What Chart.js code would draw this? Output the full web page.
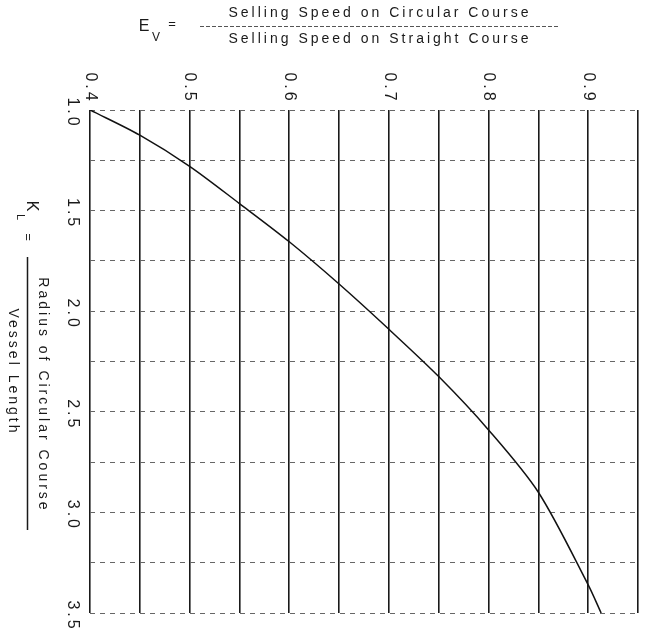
<!DOCTYPE html>
<html>
<head>
<meta charset="utf-8">
<script src="https://cdn.jsdelivr.net/npm/chart.js@4.4.0/dist/chart.umd.min.js"></script>
<style>
  html, body { margin: 0; padding: 0; background: #fff; }
  #wrap { width: 652px; height: 635px; position: relative; }
</style>
</head>
<body>
<div id="wrap"><canvas id="c"></canvas></div>
<script>
// Data
const evValues = [0.40, 0.45, 0.50, 0.55, 0.60, 0.65, 0.70, 0.75, 0.80, 0.85, 0.90, 0.913];
const klValues = [1.00, 1.125, 1.28, 1.465, 1.655, 1.865, 2.09, 2.325, 2.59, 2.90, 3.36, 3.50];
const xTickValues = [0.4, 0.5, 0.6, 0.7, 0.8, 0.9];
const xTickLabels = ['0.4', '0.5', '0.6', '0.7', '0.8', '0.9'];
const yTickValues = [1.0, 1.5, 2.0, 2.5, 3.0, 3.5];
const yTickLabels = ['1.0', '1.5', '2.0', '2.5', '3.0', '3.5'];
const titleTop = 'Selling Speed on Circular Course';
const titleBottom = 'Selling Speed on Straight Course';
const yTitleTop = 'Radius of Circular Course';
const yTitleBottom = 'Vessel Length';

const points = evValues.map((v, i) => ({ x: v, y: klValues[i] }));

const FONT = '"Liberation Sans", "DejaVu Sans", sans-serif';
const INK = '#1a1a1a';

function rotText(ctx, text, x, y, size, spacing) {
  ctx.save();
  ctx.translate(x, y);
  ctx.rotate(Math.PI / 2);
  ctx.font = size + 'px ' + FONT;
  ctx.letterSpacing = spacing + 'px';
  ctx.textAlign = 'center';
  ctx.textBaseline = 'middle';
  ctx.fillText(text, 0, 0);
  ctx.restore();
}

const labelsPlugin = {
  id: 'labels',
  afterDraw(chart) {
    const ctx = chart.ctx;
    const xs = chart.scales.x, ys = chart.scales.y;
    ctx.save();
    ctx.fillStyle = INK;
    ctx.strokeStyle = INK;
    // x tick labels (rotated)
    xTickValues.forEach((v, i) => {
      rotText(ctx, xTickLabels[i], xs.getPixelForValue(v), 88, 16, 3);
    });
    // y tick labels (rotated)
    yTickValues.forEach((v, i) => {
      rotText(ctx, yTickLabels[i], 72, ys.getPixelForValue(v) + 3, 16, 3);
    });
    // top title
    ctx.font = '16px ' + FONT;
    ctx.letterSpacing = '0px';
    ctx.textAlign = 'center';
    ctx.textBaseline = 'middle';
    ctx.fillText('E', 144, 27);
    ctx.font = '12px ' + FONT;
    ctx.fillText('V', 156, 38);
    ctx.font = '13px ' + FONT;
    ctx.fillText('=', 172, 24);
    ctx.font = '14px ' + FONT;
    ctx.letterSpacing = '3px';
    ctx.fillText(titleTop, 380, 13);
    ctx.fillText(titleBottom, 380, 39);
    ctx.lineWidth = 1;
    ctx.strokeStyle = '#555';
    ctx.setLineDash([4, 2]);
    ctx.beginPath();
    ctx.moveTo(200, 26.5);
    ctx.lineTo(560, 26.5);
    ctx.stroke();
    ctx.setLineDash([]);
    // y title (rotated)
    ctx.fillStyle = INK;
    rotText(ctx, 'K', 31, 206, 16, 0);
    rotText(ctx, 'L', 20, 217, 11, 0);
    rotText(ctx, '=', 28, 237, 13, 0);
    rotText(ctx, yTitleTop, 43, 395, 14, 3);
    rotText(ctx, yTitleBottom, 13, 372, 14, 3);
    ctx.lineWidth = 1.5;
    ctx.strokeStyle = INK;
    ctx.beginPath();
    ctx.moveTo(27.5, 257);
    ctx.lineTo(27.5, 530);
    ctx.stroke();
    ctx.restore();
  }
};

new Chart(document.getElementById('c'), {
  type: 'scatter',
  data: {
    datasets: [{
      data: points,
      showLine: true,
      borderColor: '#111',
      borderWidth: 1.5,
      pointRadius: 0,
      tension: 0.3,
      fill: false
    }]
  },
  options: {
    responsive: true,
    maintainAspectRatio: false,
    animation: false,
    layout: { padding: { left: 90, top: 110, right: 14, bottom: 22 } },
    plugins: { legend: { display: false }, tooltip: { enabled: false } },
    scales: {
      x: {
        type: 'linear',
        position: 'top',
        min: 0.4,
        max: 0.95,
        ticks: { display: false, stepSize: 0.05 },
        grid: { color: '#1a1a1a', lineWidth: 1.6, drawTicks: false },
        border: { display: false }
      },
      y: {
        type: 'linear',
        reverse: true,
        min: 1.0,
        max: 3.5,
        ticks: { display: false, stepSize: 0.25 },
        grid: { color: '#666', lineWidth: 1, drawTicks: false },
        border: { display: false, dash: [5, 5] }
      }
    }
  },
  plugins: [labelsPlugin]
});
</script>
</body>
</html>
